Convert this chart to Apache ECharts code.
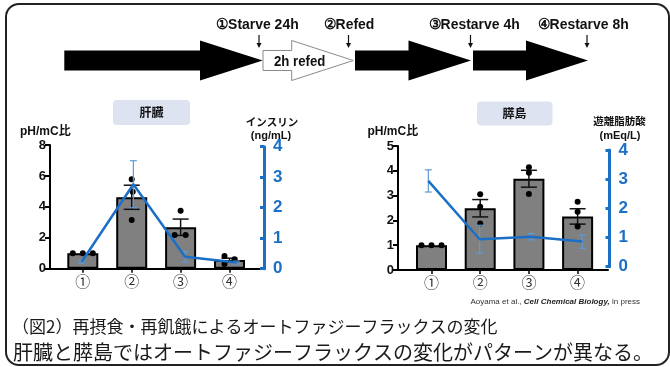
<!DOCTYPE html>
<html><head><meta charset="utf-8">
<script src="https://cdn.jsdelivr.net/npm/echarts@6/dist/echarts.min.js"></script>
<style>html,body{margin:0;padding:0;background:#fff}#c{width:670px;height:367px}</style>
</head><body><div id="c"></div>
<script>
// ---------- data ----------
const categories = ['①', '②', '③', '④'];
const liverAutophagy = [1.0, 4.62, 2.68, 0.56];
const liverAutophagyErr = [0, 0.78, 0.53, 0.12];
const liverDots = [[1.0, 1.0, 1.0], [5.78, 4.98, 3.15], [3.75, 2.18, 2.18], [0.82, 0.30, 0.61]];
const liverInsulin = [0.23, 2.77, 0.39, 0.20];
const liverInsulinErr = [0.05, 0.77, 0.17, 0.05];
const isletAutophagy = [1.0, 2.49, 3.68, 2.16];
const isletAutophagyErr = [0, 0.35, 0.34, 0.31];
const isletDots = [[1.0, 1.0, 1.0], [3.05, 2.55, 1.88], [4.14, 3.92, 3.06], [2.75, 2.35, 1.75]];
const isletFFA = [2.94, 0.94, 1.03, 0.86];
const isletFFAErr = [0.38, 0.48, 0.11, 0.23];

// ---------- styling / layout ----------
const BLUE = '#1b70c6';
const BLUE_ERR = '#5d9ad6';
const liverDotShift = [[-10, 0, 10], [0, 1, 0], [0, -6, 5], [-5, -5, 5]];
const isletDotShift = [[-10, 0, 10], [0, 0, 0], [0, 0, 0], [0, 0, 0]];
const xs = [1, 2, 3, 4];

function pairs(vals) { return vals.map((v, i) => [xs[i], v]); }
function triples(vals, errs) { return vals.map((v, i) => [xs[i], v, errs[i]]); }
function dotData(groups) {
  const out = [];
  groups.forEach((g, i) => g.forEach((v, j) => out.push([xs[i], v, i, j])));
  return out;
}

function errRender(color, capHalf, lw) {
  return function (params, api) {
    const x = api.value(0), m = api.value(1), e = api.value(2);
    if (!e) return { type: 'group', children: [] };
    const t = api.coord([x, m + e]);
    const b = api.coord([x, m - e]);
    const st = { stroke: color, lineWidth: lw };
    return {
      type: 'group', children: [
        { type: 'line', shape: { x1: t[0], y1: t[1], x2: b[0], y2: b[1] }, style: st },
        { type: 'line', shape: { x1: t[0] - capHalf, y1: t[1], x2: t[0] + capHalf, y2: t[1] }, style: st },
        { type: 'line', shape: { x1: b[0] - capHalf, y1: b[1], x2: b[0] + capHalf, y2: b[1] }, style: st }
      ]
    };
  };
}
function dotRender(shift) {
  return function (params, api) {
    const p = api.coord([api.value(0), api.value(1)]);
    const dx = shift[api.value(2)][api.value(3)];
    return { type: 'circle', shape: { cx: p[0] + dx, cy: p[1], r: 3 }, style: { fill: '#000' } };
  };
}

const font = 'Liberation Sans, Arial, sans-serif';
function barXAxis(grid, min, max) {
  return {
    type: 'value', gridIndex: grid, min: min, max: max,
    axisLine: { show: true, onZero: false, lineStyle: { color: '#000', width: 2 } },
    axisTick: { show: true, customValues: xs, length: 4, lineStyle: { color: '#000', width: 1.5 } },
    axisLabel: { show: true, customValues: xs, formatter: v => categories[Math.round(v) - 1], fontSize: 15, color: '#333', margin: 5, fontFamily: 'Noto Sans CJK JP' },
    splitLine: { show: false }
  };
}
function hiddenX(grid, min, max) {
  return { type: 'value', gridIndex: grid, min: min, max: max, show: false, splitLine: { show: false } };
}
function leftY(grid, max, interval) {
  return {
    type: 'value', gridIndex: grid, min: 0, max: max, interval: interval, position: 'left',
    axisLine: { show: true, lineStyle: { color: '#000', width: 2 } },
    axisTick: { show: true, length: 5, lineStyle: { color: '#000', width: 2 } },
    axisLabel: { fontSize: 13, fontWeight: 'bold', color: '#111', margin: 4, fontFamily: font },
    splitLine: { show: false }
  };
}
function blueY(grid) {
  return {
    type: 'value', gridIndex: grid, min: 0, max: 4, interval: 1, position: 'right',
    axisLine: { show: true, lineStyle: { color: BLUE, width: 3 } },
    axisTick: { show: true, inside: true, length: 4, lineStyle: { color: BLUE, width: 3 } },
    axisLabel: { fontSize: 17, fontWeight: 'bold', color: BLUE, margin: 9, fontFamily: font },
    splitLine: { show: false }
  };
}

function txt(x, y, text, opts) {
  opts = opts || {};
  return {
    type: 'text', x: x, y: y, scaleX: opts.sx || 1, z: 100,
    style: {
      text: text, x: 0, y: 0, fill: opts.fill || '#111',
      font: opts.font, align: opts.align || 'left', verticalAlign: 'middle',
      textAlign: opts.align || 'left', textVerticalAlign: 'middle', rich: opts.rich
    }
  };
}
function arrow(x0, x1, x2, color, stroke) {
  return {
    type: 'polygon', z: 50,
    shape: { points: [[x0, 50.5], [x1, 50.5], [x1, 40.5], [x2, 60.5], [x1, 80.5], [x1, 70.5], [x0, 70.5]] },
    style: { fill: color, stroke: stroke || null, lineWidth: 1 }
  };
}
function downArrow(x) {
  return [
    { type: 'line', z: 60, shape: { x1: x, y1: 35, x2: x, y2: 45 }, style: { stroke: '#111', lineWidth: 1.2 } },
    { type: 'polygon', z: 60, shape: { points: [[x - 2.5, 43], [x + 2.5, 43], [x, 48]] }, style: { fill: '#111' } }
  ];
}

const labelFont = 'bold 15px Liberation Sans, Arial, sans-serif';
const graphics = [
  { type: 'rect', z: 1, shape: { x: 6, y: 4, width: 663, height: 361, r: 13 }, style: { fill: 'none', stroke: '#222', lineWidth: 2 } },
  arrow(64.3, 200, 262.7, '#000'),
  arrow(263, 291.7, 353.3, '#fff', '#8a8a8a'),
  arrow(355, 408.5, 471, '#000'),
  arrow(473, 526, 588, '#000'),
  ...downArrow(259), ...downArrow(348.5), ...downArrow(470.5), ...downArrow(587),
  txt(216, 25, '①Starve 24h', { font: labelFont, sx: 0.93 }),
  txt(323.5, 25, '②Refed', { font: labelFont, sx: 0.93 }),
  txt(428.5, 25, '③Restarve 4h', { font: labelFont, sx: 0.93 }),
  txt(537.5, 25, '④Restarve 8h', { font: labelFont, sx: 0.93 }),
  txt(274, 62, '2h refed', { font: 'bold 15px Liberation Sans, Arial, sans-serif', sx: 0.88 }),
  // panel titles
  { type: 'rect', z: 5, shape: { x: 113, y: 100, width: 77, height: 25, r: 4 }, style: { fill: '#dde3f1' } },
  txt(151.5, 112.5, '肝臓', { font: 'bold 12px Noto Sans CJK JP', align: 'center' }),
  { type: 'rect', z: 5, shape: { x: 477, y: 101.5, width: 75.5, height: 24, r: 4 }, style: { fill: '#dde3f1' } },
  txt(514.5, 113.5, '膵島', { font: 'bold 12px Noto Sans CJK JP', align: 'center' }),
  // axis titles
  txt(20, 131.5, 'pH/mC比', { font: 'bold 12px Liberation Sans, Noto Sans CJK JP, sans-serif' }),
  txt(272, 122, 'インスリン', { font: 'bold 10.5px Noto Sans CJK JP', align: 'center' }),
  txt(271, 135.5, '(ng/mL)', { font: 'bold 11px Liberation Sans, Arial, sans-serif', align: 'center' }),
  txt(367.5, 131.5, 'pH/mC比', { font: 'bold 12px Liberation Sans, Noto Sans CJK JP, sans-serif' }),
  txt(619.5, 121, '遊離脂肪酸', { font: 'bold 10.5px Noto Sans CJK JP', align: 'center' }),
  txt(620, 135.5, '(mEq/L)', { font: 'bold 11px Liberation Sans, Arial, sans-serif', align: 'center' }),
  // citation
  txt(640, 302, '{a|Aoyama et al., }{b|Cell Chemical Biology,}{a| in press}', {
    align: 'right', font: '8px Liberation Sans, Arial, sans-serif', fill: '#333',
    rich: { a: { fontSize: 8, fontFamily: 'Liberation Sans, Arial, sans-serif', fill: '#333', color: '#333' },
            b: { fontSize: 8, fontWeight: 'bold', fontStyle: 'italic', fontFamily: 'Liberation Sans, Arial, sans-serif', fill: '#222', color: '#222' } }
  }),
  // caption
  txt(12, 327, '（図2）再摂食・再飢餓によるオートファジーフラックスの変化', { font: '17px Noto Sans CJK JP', fill: '#1a1a1a' }),
  txt(13, 352.5, '肝臓と膵島ではオートファジーフラックスの変化がパターンが異なる。', { font: '20px Noto Sans CJK JP', fill: '#1a1a1a' })
];

const option = {
  animation: false,
  backgroundColor: '#fff',
  textStyle: { fontFamily: font },
  grid: [
    { left: 50, top: 145, width: 211, height: 123.7 },
    { left: 50, top: 146.7, width: 214, height: 122 },
    { left: 398, top: 146, width: 210, height: 124 },
    { left: 398, top: 150, width: 211.5, height: 116.7 }
  ],
  xAxis: [
    barXAxis(0, 0.329, 4.644),
    hiddenX(1, 0.3865, 4.528),
    barXAxis(2, 0.312, 4.624),
    hiddenX(3, 0.409, 4.532)
  ],
  yAxis: [
    leftY(0, 8, 2),
    blueY(1),
    leftY(2, 5, 1),
    blueY(3)
  ],
  series: [
    // liver
    { type: 'bar', xAxisIndex: 0, yAxisIndex: 0, data: pairs(liverAutophagy), barWidth: 31, z: 2,
      itemStyle: { color: '#808080', borderColor: '#000', borderWidth: 2 } },
    { type: 'custom', xAxisIndex: 0, yAxisIndex: 0, data: triples(liverAutophagy, liverAutophagyErr), z: 3,
      renderItem: errRender('#111', 8, 1.5) },
    { type: 'custom', xAxisIndex: 0, yAxisIndex: 0, data: dotData(liverDots), z: 4, renderItem: dotRender(liverDotShift) },
    { type: 'custom', xAxisIndex: 1, yAxisIndex: 1, data: triples(liverInsulin, liverInsulinErr), z: 5,
      renderItem: errRender(BLUE_ERR, 3.5, 1.2) },
    { type: 'line', xAxisIndex: 1, yAxisIndex: 1, data: pairs(liverInsulin), z: 6, symbol: 'none',
      lineStyle: { color: BLUE, width: 2.5 } },
    // islet
    { type: 'bar', xAxisIndex: 2, yAxisIndex: 2, data: pairs(isletAutophagy), barWidth: 31, z: 2,
      itemStyle: { color: '#808080', borderColor: '#000', borderWidth: 2 } },
    { type: 'custom', xAxisIndex: 2, yAxisIndex: 2, data: triples(isletAutophagy, isletAutophagyErr), z: 3,
      renderItem: errRender('#111', 8, 1.5) },
    { type: 'custom', xAxisIndex: 2, yAxisIndex: 2, data: dotData(isletDots), z: 4, renderItem: dotRender(isletDotShift) },
    { type: 'custom', xAxisIndex: 3, yAxisIndex: 3, data: triples(isletFFA, isletFFAErr), z: 5,
      renderItem: errRender(BLUE_ERR, 3.5, 1.2) },
    { type: 'line', xAxisIndex: 3, yAxisIndex: 3, data: pairs(isletFFA), z: 6, symbol: 'none',
      lineStyle: { color: BLUE, width: 2.5 } }
  ],
  graphic: { elements: graphics }
};
const chart = echarts.init(document.getElementById('c'), null, { renderer: 'canvas' });
chart.setOption(option);
</script>
</body></html>
